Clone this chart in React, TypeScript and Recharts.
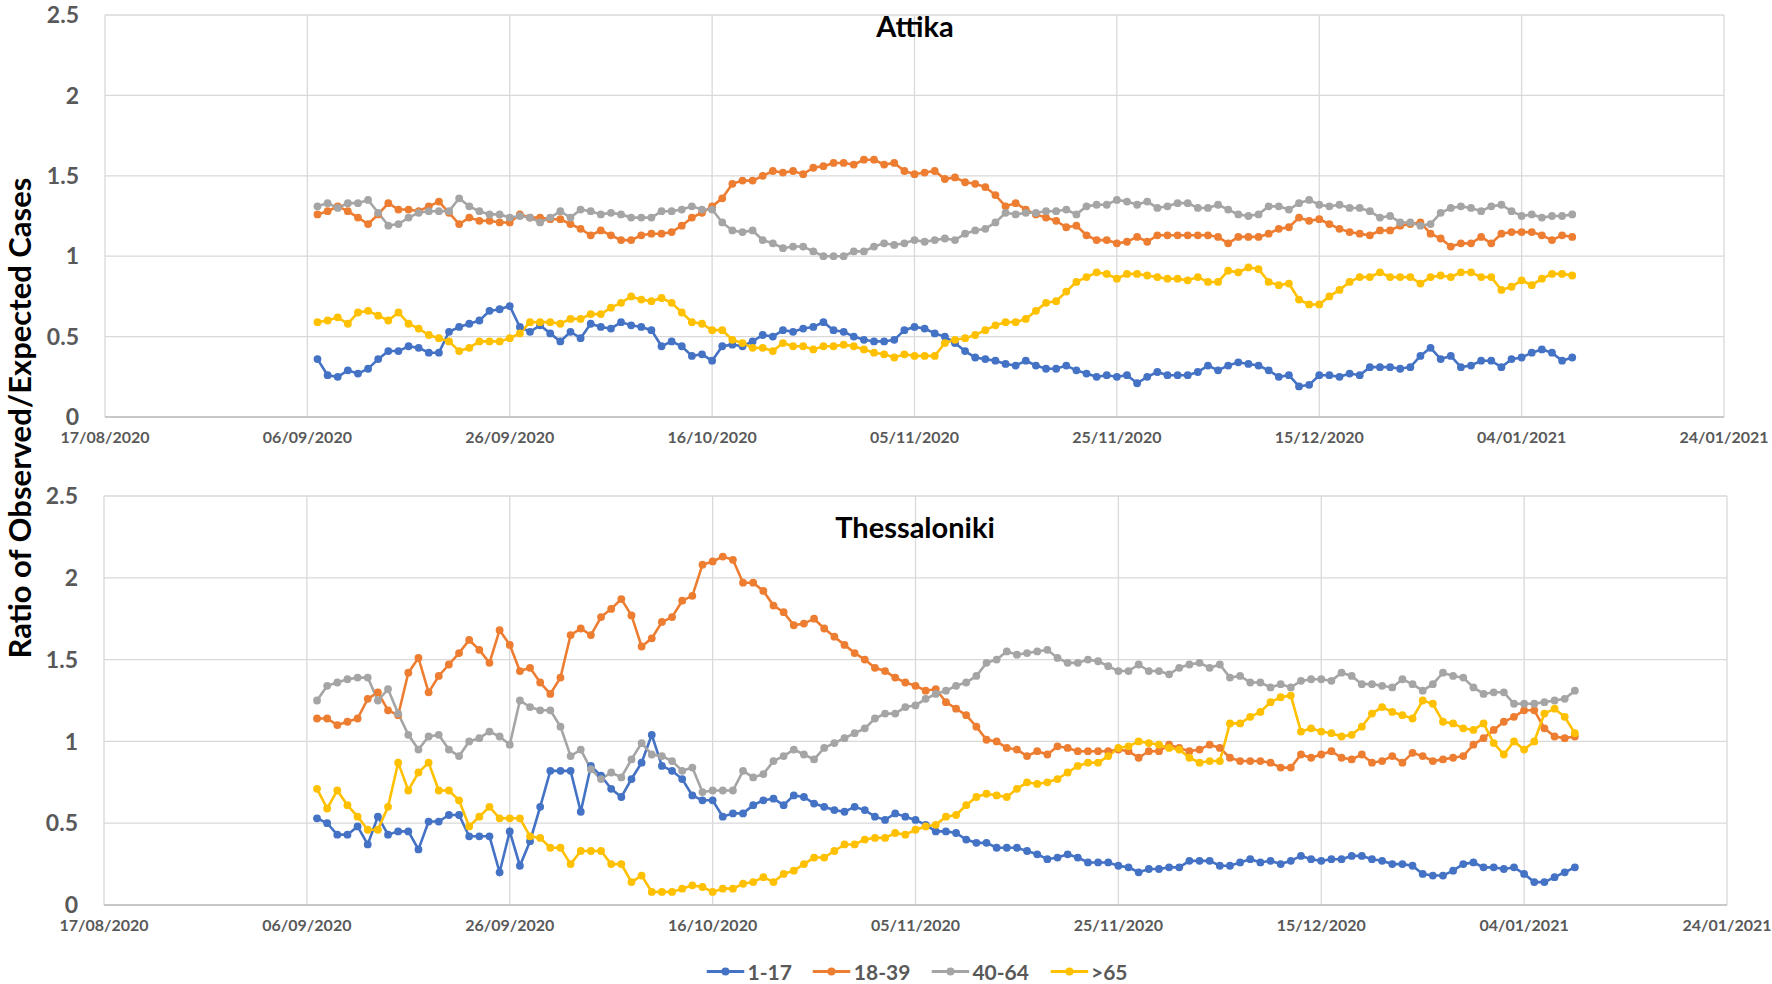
import React from "react";
import { LineChart, Line, XAxis, YAxis, CartesianGrid } from "recharts";

const W = 1772;
const H = 984;

// day 0 = 17/08/2020, the first observation is 07/09/2020
const FIRST_DAY = 21;
const X_TICKS = [0, 20, 40, 60, 80, 100, 120, 140, 160];
const X_TICK_LABELS = [
  "17/08/2020",
  "06/09/2020",
  "26/09/2020",
  "16/10/2020",
  "05/11/2020",
  "25/11/2020",
  "15/12/2020",
  "04/01/2021",
  "24/01/2021",
];
const Y_TICKS = [0, 0.5, 1, 1.5, 2, 2.5];

const SERIES = [
  { key: "g1", name: "1-17", color: "#4472C4" },
  { key: "g2", name: "18-39", color: "#ED7D31" },
  { key: "g3", name: "40-64", color: "#A5A5A5" },
  { key: "g4", name: ">65", color: "#FFC000" },
];

// Attika
const ATTIKA_1_17 = [
  0.36, 0.26, 0.25, 0.29, 0.27, 0.30, 0.36, 0.41, 0.41, 0.44, 0.43, 0.40, 0.40, 0.53, 0.56, 0.58, 0.60, 0.66, 0.67, 0.69,
  0.56, 0.53, 0.57, 0.52, 0.47, 0.53, 0.49, 0.58, 0.56, 0.55, 0.59, 0.57, 0.56, 0.54, 0.44, 0.47, 0.44, 0.38, 0.39, 0.35,
  0.44, 0.45, 0.44, 0.47, 0.51, 0.50, 0.54, 0.53, 0.55, 0.56, 0.59, 0.54, 0.53, 0.50, 0.48, 0.47, 0.47, 0.48, 0.54, 0.56,
  0.55, 0.52, 0.50, 0.46, 0.41, 0.37, 0.36, 0.35, 0.33, 0.32, 0.35, 0.32, 0.30, 0.30, 0.32, 0.29, 0.27, 0.25, 0.26, 0.25,
  0.26, 0.21, 0.25, 0.28, 0.26, 0.26, 0.26, 0.28, 0.32, 0.29, 0.32, 0.34, 0.33, 0.32, 0.29, 0.25, 0.26, 0.19, 0.20, 0.26,
  0.26, 0.25, 0.27, 0.26, 0.31, 0.31, 0.31, 0.30, 0.31, 0.38, 0.43, 0.36, 0.38, 0.31, 0.32, 0.35, 0.35, 0.31, 0.36,
  0.37, 0.40, 0.42, 0.40, 0.35, 0.37,
];
const ATTIKA_18_39 = [
  1.26, 1.28, 1.31, 1.28, 1.24, 1.20, 1.26, 1.33, 1.29, 1.29, 1.28, 1.31, 1.34, 1.27, 1.20, 1.24, 1.22, 1.22, 1.21, 1.21,
  1.26, 1.24, 1.24, 1.23, 1.23, 1.20, 1.17, 1.13, 1.16, 1.13, 1.10, 1.10, 1.13, 1.14, 1.14, 1.15, 1.19, 1.24, 1.27, 1.31,
  1.36, 1.45, 1.47, 1.47, 1.50, 1.53, 1.52, 1.53, 1.51, 1.55, 1.56, 1.58, 1.58, 1.57, 1.60, 1.60, 1.57, 1.58, 1.53, 1.51,
  1.52, 1.53, 1.48, 1.49, 1.46, 1.45, 1.43, 1.38, 1.31, 1.33, 1.29, 1.26, 1.24, 1.22, 1.18, 1.19, 1.13, 1.10, 1.10, 1.08,
  1.09, 1.12, 1.09, 1.13, 1.13, 1.13, 1.13, 1.13, 1.13, 1.12, 1.08, 1.12, 1.12, 1.12, 1.14, 1.17, 1.18, 1.24, 1.22, 1.23,
  1.20, 1.17, 1.15, 1.14, 1.13, 1.16, 1.16, 1.19, 1.20, 1.21, 1.14, 1.11, 1.06, 1.08, 1.08, 1.12, 1.08, 1.14, 1.15,
  1.15, 1.15, 1.13, 1.10, 1.13, 1.12,
];
const ATTIKA_40_64 = [
  1.31, 1.33, 1.30, 1.33, 1.33, 1.35, 1.27, 1.19, 1.20, 1.24, 1.27, 1.28, 1.28, 1.28, 1.36, 1.31, 1.28, 1.26, 1.26, 1.24,
  1.25, 1.24, 1.21, 1.24, 1.28, 1.24, 1.29, 1.28, 1.26, 1.27, 1.26, 1.24, 1.24, 1.24, 1.28, 1.28, 1.29, 1.31, 1.29, 1.29,
  1.21, 1.16, 1.15, 1.16, 1.10, 1.08, 1.05, 1.06, 1.06, 1.03, 1.00, 1.00, 1.00, 1.03, 1.03, 1.06, 1.08, 1.07, 1.08, 1.10,
  1.09, 1.10, 1.11, 1.10, 1.14, 1.16, 1.17, 1.21, 1.27, 1.26, 1.27, 1.27, 1.28, 1.28, 1.29, 1.26, 1.31, 1.32, 1.32, 1.35,
  1.34, 1.32, 1.34, 1.30, 1.31, 1.33, 1.33, 1.30, 1.30, 1.32, 1.29, 1.26, 1.25, 1.26, 1.31, 1.31, 1.29, 1.33, 1.35, 1.32,
  1.31, 1.32, 1.30, 1.30, 1.28, 1.24, 1.25, 1.21, 1.21, 1.19, 1.20, 1.27, 1.30, 1.31, 1.30, 1.28, 1.31, 1.32, 1.28,
  1.25, 1.26, 1.24, 1.25, 1.25, 1.26,
];
const ATTIKA_65 = [
  0.59, 0.60, 0.62, 0.58, 0.65, 0.66, 0.63, 0.60, 0.65, 0.58, 0.55, 0.51, 0.49, 0.47, 0.41, 0.43, 0.47, 0.47, 0.47, 0.49,
  0.52, 0.59, 0.59, 0.59, 0.58, 0.61, 0.61, 0.64, 0.64, 0.68, 0.71, 0.75, 0.73, 0.72, 0.74, 0.71, 0.65, 0.59, 0.58, 0.54,
  0.54, 0.48, 0.46, 0.43, 0.43, 0.41, 0.46, 0.44, 0.44, 0.42, 0.44, 0.44, 0.45, 0.44, 0.42, 0.40, 0.39, 0.37, 0.39, 0.38,
  0.38, 0.38, 0.46, 0.48, 0.49, 0.51, 0.54, 0.57, 0.59, 0.59, 0.61, 0.66, 0.71, 0.72, 0.78, 0.84, 0.87, 0.90, 0.89, 0.86,
  0.89, 0.89, 0.88, 0.87, 0.86, 0.86, 0.85, 0.87, 0.84, 0.84, 0.91, 0.90, 0.93, 0.92, 0.84, 0.82, 0.83, 0.73, 0.70, 0.70,
  0.75, 0.79, 0.84, 0.87, 0.87, 0.90, 0.87, 0.87, 0.87, 0.83, 0.87, 0.88, 0.87, 0.90, 0.90, 0.87, 0.87, 0.79, 0.81,
  0.85, 0.82, 0.86, 0.89, 0.89, 0.88,
];

// Thessaloniki
const THESS_1_17 = [
  0.53, 0.50, 0.43, 0.43, 0.48, 0.37, 0.54, 0.43, 0.45, 0.45, 0.34, 0.51, 0.51, 0.55, 0.55, 0.42, 0.42, 0.42, 0.20, 0.45,
  0.24, 0.39, 0.60, 0.82, 0.82, 0.82, 0.57, 0.85, 0.79, 0.71, 0.66, 0.77, 0.87, 1.04, 0.85, 0.82, 0.77, 0.67, 0.64, 0.64,
  0.54, 0.56, 0.56, 0.61, 0.64, 0.65, 0.61, 0.67, 0.66, 0.62, 0.60, 0.58, 0.57, 0.60, 0.58, 0.54, 0.52, 0.56, 0.54, 0.52,
  0.49, 0.45, 0.45, 0.44, 0.40, 0.38, 0.38, 0.35, 0.35, 0.35, 0.33, 0.31, 0.28, 0.29, 0.31, 0.29, 0.26, 0.26, 0.26, 0.24,
  0.23, 0.20, 0.22, 0.22, 0.23, 0.23, 0.27, 0.27, 0.27, 0.24, 0.24, 0.26, 0.28, 0.26, 0.27, 0.25, 0.27, 0.30, 0.28, 0.27,
  0.28, 0.28, 0.30, 0.30, 0.28, 0.27, 0.25, 0.25, 0.24, 0.19, 0.18, 0.18, 0.21, 0.25, 0.26, 0.23, 0.23, 0.22, 0.23, 0.19,
  0.14, 0.14, 0.17, 0.20, 0.23,
];
const THESS_18_39 = [
  1.14, 1.14, 1.10, 1.12, 1.14, 1.26, 1.30, 1.19, 1.16, 1.42, 1.51, 1.30, 1.40, 1.47, 1.54, 1.62, 1.56, 1.48, 1.68, 1.59,
  1.43, 1.45, 1.36, 1.29, 1.39, 1.65, 1.69, 1.65, 1.76, 1.81, 1.87, 1.77, 1.58, 1.63, 1.73, 1.76, 1.86, 1.89, 2.08, 2.10,
  2.13, 2.11, 1.97, 1.97, 1.92, 1.83, 1.79, 1.71, 1.72, 1.75, 1.69, 1.64, 1.59, 1.54, 1.50, 1.45, 1.43, 1.39, 1.36, 1.34,
  1.31, 1.32, 1.24, 1.20, 1.16, 1.09, 1.01, 1.00, 0.96, 0.95, 0.91, 0.94, 0.92, 0.97, 0.96, 0.94, 0.94, 0.94, 0.94, 0.95,
  0.94, 0.90, 0.94, 0.94, 0.98, 0.96, 0.94, 0.95, 0.98, 0.96, 0.90, 0.88, 0.88, 0.88, 0.87, 0.84, 0.84, 0.92, 0.90, 0.92,
  0.94, 0.90, 0.89, 0.92, 0.87, 0.88, 0.91, 0.87, 0.93, 0.91, 0.88, 0.89, 0.90, 0.91, 0.98, 1.02, 1.07, 1.12, 1.15, 1.19,
  1.19, 1.08, 1.03, 1.02, 1.03,
];
const THESS_40_64 = [
  1.25, 1.34, 1.36, 1.38, 1.39, 1.39, 1.25, 1.32, 1.17, 1.04, 0.95, 1.03, 1.04, 0.95, 0.91, 1.00, 1.02, 1.06, 1.03, 0.98,
  1.25, 1.21, 1.19, 1.19, 1.09, 0.91, 0.95, 0.83, 0.77, 0.81, 0.78, 0.89, 0.99, 0.92, 0.91, 0.88, 0.82, 0.84, 0.69, 0.70,
  0.70, 0.70, 0.82, 0.78, 0.80, 0.88, 0.91, 0.95, 0.92, 0.89, 0.96, 0.99, 1.02, 1.05, 1.08, 1.14, 1.17, 1.17, 1.21, 1.22,
  1.26, 1.29, 1.31, 1.34, 1.36, 1.40, 1.48, 1.50, 1.55, 1.53, 1.54, 1.55, 1.56, 1.51, 1.48, 1.48, 1.50, 1.49, 1.46, 1.43,
  1.43, 1.47, 1.43, 1.43, 1.41, 1.45, 1.47, 1.48, 1.45, 1.47, 1.39, 1.40, 1.36, 1.36, 1.33, 1.35, 1.33, 1.37, 1.38, 1.38,
  1.37, 1.42, 1.40, 1.35, 1.35, 1.34, 1.33, 1.38, 1.35, 1.31, 1.35, 1.42, 1.40, 1.39, 1.33, 1.29, 1.30, 1.30, 1.23, 1.23,
  1.23, 1.24, 1.25, 1.26, 1.31,
];
const THESS_65 = [
  0.71, 0.59, 0.70, 0.61, 0.54, 0.46, 0.46, 0.60, 0.87, 0.70, 0.81, 0.87, 0.70, 0.70, 0.64, 0.48, 0.54, 0.60, 0.53, 0.53,
  0.53, 0.42, 0.41, 0.35, 0.35, 0.25, 0.33, 0.33, 0.33, 0.25, 0.25, 0.14, 0.18, 0.08, 0.08, 0.08, 0.10, 0.12, 0.11, 0.08,
  0.10, 0.10, 0.13, 0.14, 0.17, 0.14, 0.19, 0.21, 0.25, 0.29, 0.29, 0.33, 0.37, 0.37, 0.40, 0.41, 0.41, 0.44, 0.43, 0.46,
  0.48, 0.49, 0.54, 0.55, 0.61, 0.66, 0.68, 0.67, 0.66, 0.71, 0.75, 0.74, 0.75, 0.77, 0.81, 0.85, 0.87, 0.87, 0.91, 0.96,
  0.97, 1.00, 0.99, 0.98, 0.96, 0.95, 0.90, 0.87, 0.88, 0.88, 1.11, 1.11, 1.15, 1.18, 1.24, 1.27, 1.28, 1.06, 1.08, 1.06,
  1.05, 1.03, 1.04, 1.09, 1.17, 1.21, 1.18, 1.16, 1.14, 1.25, 1.23, 1.12, 1.11, 1.08, 1.07, 1.11, 0.99, 0.92, 1.00, 0.95,
  1.00, 1.17, 1.20, 1.15, 1.05,
];

function buildRows(g1: number[], g2: number[], g3: number[], g4: number[]) {
  return g1.map((v, i) => ({ day: FIRST_DAY + i, g1: v, g2: g2[i], g3: g3[i], g4: g4[i] }));
}

const attikaRows = buildRows(ATTIKA_1_17, ATTIKA_18_39, ATTIKA_40_64, ATTIKA_65);
const thessRows = buildRows(THESS_1_17, THESS_18_39, THESS_40_64, THESS_65);

const FONT = "Lato, 'Open Sans', sans-serif";
const GREY_TEXT = "#595959";

function Panel({ rows, top, height, margin }: any) {
  return (
    <div style={{ position: "absolute", left: 0, top, width: W, height }}>
      <LineChart width={W} height={height} data={rows} margin={margin}>
        <CartesianGrid stroke="#d9d9d9" strokeWidth={1.3} />
        <XAxis
          type="number"
          dataKey="day"
          domain={[0, 160]}
          ticks={X_TICKS}
          interval={0}
          tickFormatter={(v) => X_TICK_LABELS[X_TICKS.indexOf(v)]}
          tickLine={false}
          tickSize={0}
          tickMargin={15}
          height={30}
          axisLine={{ stroke: "#bfbfbf", strokeWidth: 1.5 }}
          tick={{ fill: GREY_TEXT, fontSize: 16, fontWeight: 700, fontFamily: FONT }}
        />
        <YAxis
          type="number"
          domain={[0, 2.5]}
          ticks={Y_TICKS}
          interval={0}
          width={60}
          tickLine={false}
          tickSize={0}
          tickMargin={26}
          axisLine={false}
          tick={{ fill: GREY_TEXT, fontSize: 23, fontWeight: 700, fontFamily: FONT }}
        />
        {SERIES.map((s) => (
          <Line
            key={s.key}
            type="linear"
            dataKey={s.key}
            name={s.name}
            stroke={s.color}
            strokeWidth={2.6}
            dot={{ r: 3.9, fill: s.color, stroke: s.color, strokeWidth: 0 }}
            isAnimationActive={false}
          />
        ))}
      </LineChart>
    </div>
  );
}

function Title({ text, y }: { text: string; y: number }) {
  return (
    <div
      style={{
        position: "absolute",
        left: 915,
        top: y,
        transform: "translate(-50%, -50%)",
        fontFamily: FONT,
        fontWeight: 700,
        fontSize: 29,
        color: "#000",
        whiteSpace: "nowrap",
      }}
    >
      {text}
    </div>
  );
}

function LegendRow() {
  return (
    <div
      style={{
        position: "absolute",
        left: 917,
        top: 971,
        transform: "translate(-50%, -50%)",
        display: "flex",
        alignItems: "center",
        gap: 21,
        fontFamily: FONT,
        fontWeight: 700,
        fontSize: 21,
        color: GREY_TEXT,
        whiteSpace: "nowrap",
      }}
    >
      {SERIES.map((s) => (
        <div key={s.key} style={{ display: "flex", alignItems: "center", gap: 3 }}>
          <svg width={38} height={12}>
            <line x1={0} y1={6} x2={38} y2={6} stroke={s.color} strokeWidth={3} />
            <circle cx={19} cy={6} r={4} fill={s.color} />
          </svg>
          <span>{s.name}</span>
        </div>
      ))}
    </div>
  );
}

export default function App() {
  return (
    <div style={{ position: "absolute", left: 0, top: 0, width: W, height: H, background: "#fff", overflow: "hidden" }}>
      <Panel rows={attikaRows} top={0} height={460} margin={{ top: 15, right: 48, bottom: 13, left: 45 }} />
      <Panel rows={thessRows} top={460} height={524} margin={{ top: 36, right: 45, bottom: 49, left: 44 }} />
      <Title text="Attika" y={25} />
      <Title text="Thessaloniki" y={526} />
      <svg width={W} height={H} style={{ position: "absolute", left: 0, top: 0, pointerEvents: "none" }}>
        <text
          x={31}
          y={418}
          transform="rotate(-90 31 418)"
          textAnchor="middle"
          fontFamily={FONT}
          fontWeight={700}
          fontSize={31}
          fill="#000"
        >
          Ratio of Observed/Expected Cases
        </text>
      </svg>
      <LegendRow />
    </div>
  );
}
